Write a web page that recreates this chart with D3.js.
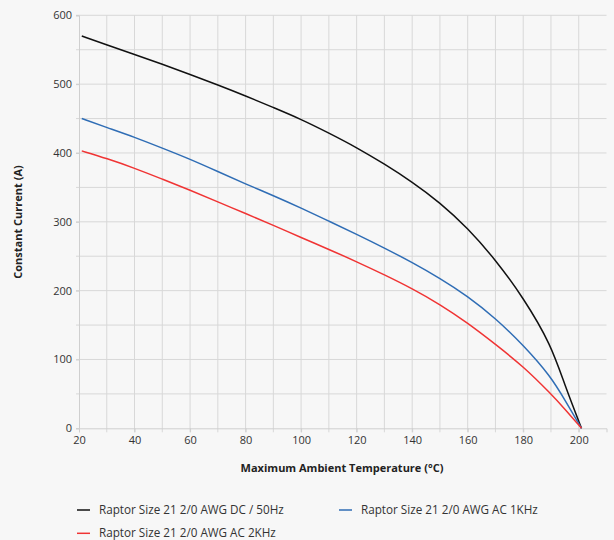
<!DOCTYPE html>
<html lang="en">
<head>
    <meta charset="UTF-8">
    <title>Constant Current vs Ambient Temperature</title>
    <style>
        body {
            margin: 0;
            background-color: #f7f7f7;
            font-family: "Open Sans", "Noto Sans", sans-serif;
        }
        svg {
            display: block;
        }
        .grid line {
            stroke: #d8d8d8;
            stroke-width: 1px;
        }
        .tick text {
            fill: #333;
            font-size: 11px;
        }
        .line {
            fill: none;
            stroke-width: 1.5px;
        }
        .title {
            font-size: 11px;
            font-weight: bold;
            fill: #222;
        }
        .legend text {
            font-size: 11.7px;
            fill: #333;
        }
    </style>
</head>
<body>
    <svg id="chart" width="614" height="540"></svg>
    <script src="https://d3js.org/d3.v7.min.js"></script>
    <script>
        // Data
        const temps = [21, 30, 40, 50, 60, 70, 80, 90, 100, 110, 120, 130, 140, 150, 160, 170, 180, 190, 195, 201];
        const dc50 = [570, 557, 543, 529, 514, 499, 483, 466, 449, 429, 408, 384, 358, 328, 291, 245, 190, 122, 62, 0];
        const ac1k = [450, 437, 423, 407, 391, 373, 355, 338, 320, 301, 282, 262, 241, 218, 192, 160, 121, 75, 41, 0];
        const ac2k = [403, 392, 378, 362, 346, 329, 312, 295, 277, 260, 242, 223, 203, 180, 153, 122, 90, 50, 28, 0];
        const seriesNames = ["Raptor Size 21 2/0 AWG DC / 50Hz", "Raptor Size 21 2/0 AWG AC 1KHz", "Raptor Size 21 2/0 AWG AC 2KHz"];
        const seriesColors = ["#111111", "#2f6db5", "#f03434"];
        const xTicks = [20, 40, 60, 80, 100, 120, 140, 160, 180, 200];
        const yTicks = [0, 100, 200, 300, 400, 500, 600];

        const series = [dc50, ac1k, ac2k].map((vals, i) => ({
            name: seriesNames[i],
            color: seriesColors[i],
            values: vals.map((v, j) => ({ t: temps[j], v: v }))
        }));

        const svg = d3.select("#chart");

        const x = d3.scaleLinear().domain([20, 210]).range([79, 606.5]);
        const y = d3.scaleLinear().domain([0, 600]).range([428.3, 15.3]);

        // gridlines
        const grid = svg.append("g").attr("class", "grid");
        grid.selectAll(".gx")
            .data(d3.range(30, 201, 10))
            .enter().append("line")
            .attr("x1", d => x(d)).attr("x2", d => x(d))
            .attr("y1", y(600)).attr("y2", y(0) + 4);
        grid.selectAll(".gy")
            .data(d3.range(50, 601, 50))
            .enter().append("line")
            .attr("x1", x(20) - 3).attr("x2", x(210))
            .attr("y1", d => y(d)).attr("y2", d => y(d));

        // axes
        const xAxis = svg.append("g")
            .attr("transform", `translate(0,${y(0)})`)
            .call(d3.axisBottom(x).tickValues(xTicks).tickSize(4).tickPadding(4));
        const yAxis = svg.append("g")
            .attr("transform", `translate(${x(20)},0)`)
            .call(d3.axisLeft(y).tickValues(yTicks).tickSize(3).tickPadding(4));
        [xAxis, yAxis].forEach(a => {
            a.select(".domain").attr("stroke", "#cfcfcf");
            a.selectAll(".tick line").attr("stroke", "#cfcfcf");
            a.attr("font-family", null).attr("font-size", null);
        });

        // lines
        const line = d3.line()
            .x(d => x(d.t))
            .y(d => y(d.v))
            .curve(d3.curveBasis);

        svg.selectAll(".line")
            .data(series)
            .enter().append("path")
            .attr("class", "line")
            .attr("stroke", d => d.color)
            .attr("d", d => line(d.values));

        // axis titles
        svg.append("text")
            .attr("class", "title")
            .attr("x", 342).attr("y", 472)
            .attr("text-anchor", "middle")
            .text("Maximum Ambient Temperature (°C)");
        svg.append("text")
            .attr("class", "title")
            .attr("transform", "translate(22,222) rotate(-90)")
            .attr("text-anchor", "middle")
            .text("Constant Current (A)");

        // legend
        const legendPos = [[77, 510], [339, 510], [77, 533.3]];
        const legend = svg.append("g").attr("class", "legend");
        const items = legend.selectAll("g")
            .data(series)
            .enter().append("g")
            .attr("transform", (d, i) => `translate(${legendPos[i][0]},${legendPos[i][1]})`);
        items.append("line")
            .attr("x1", 0).attr("x2", 13)
            .attr("stroke", d => d.color)
            .attr("stroke-width", 1.5);
        items.append("text")
            .attr("x", 22).attr("dy", "0.35em")
            .text(d => d.name);
    </script>
</body>
</html>
